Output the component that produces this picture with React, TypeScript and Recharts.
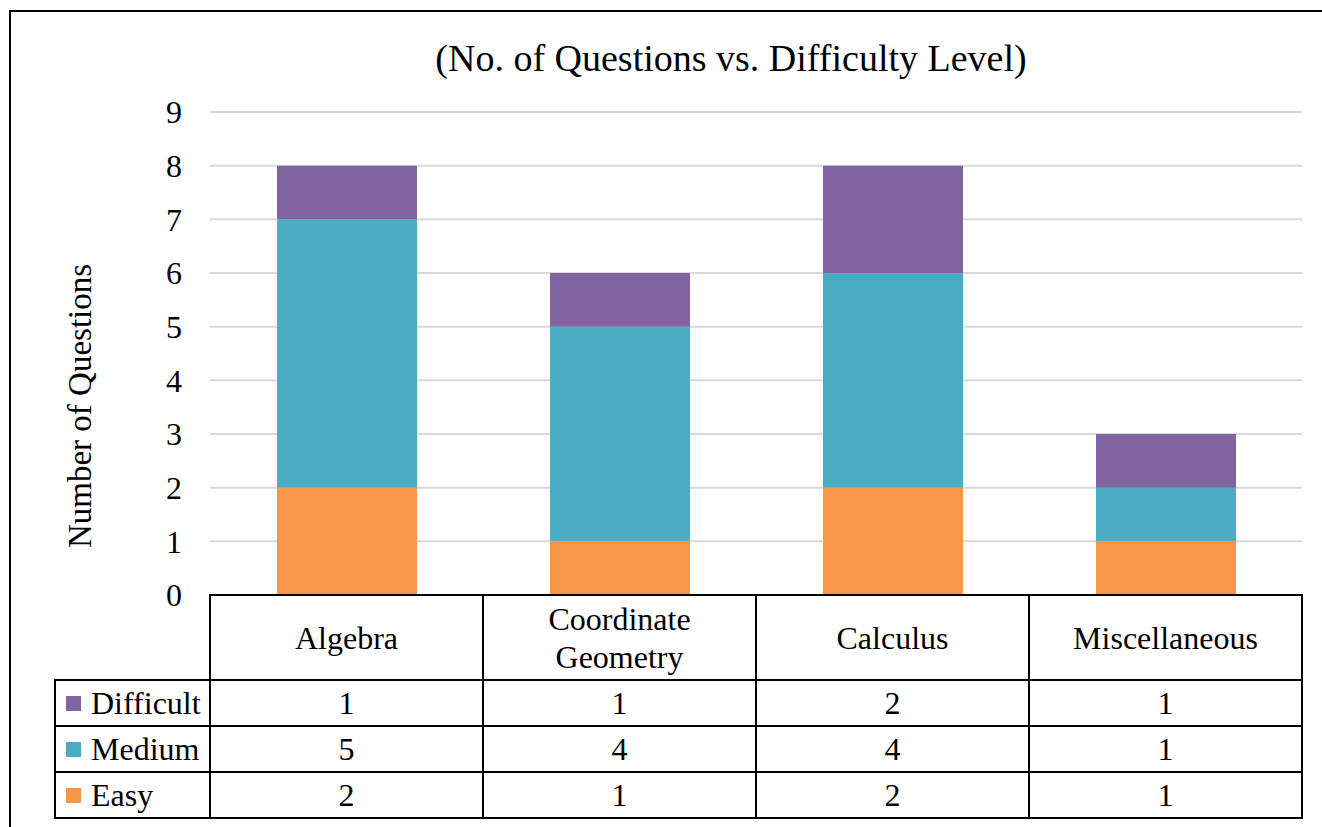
import { BarChart, Bar, XAxis, YAxis, CartesianGrid } from "recharts";

const categories = ["Algebra", "Coordinate Geometry", "Calculus", "Miscellaneous"];
const easy = [2, 1, 2, 1];
const medium = [5, 4, 4, 1];
const difficult = [1, 1, 2, 1];
const yTicks = [0, 1, 2, 3, 4, 5, 6, 7, 8, 9];

const series = [
  { key: "Difficult", values: difficult, color: "#8064A2" },
  { key: "Medium", values: medium, color: "#4BACC6" },
  { key: "Easy", values: easy, color: "#F79646" },
];

const data = categories.map((name, i) => ({
  name,
  Easy: easy[i],
  Medium: medium[i],
  Difficult: difficult[i],
}));

const FONT = "'Liberation Serif', 'DejaVu Serif', serif";
const W = 1322;
const H = 827;
const PLOT_LEFT = 210;
const PLOT_RIGHT = 1302;
const COL_W = (PLOT_RIGHT - PLOT_LEFT) / categories.length;
const HEADER_H = 85;
const ROW_H = 46;
const LEGEND_LEFT = 55;
const FS = 32;

function TableTick(props: any) {
  const { x, y, payload, index } = props;
  const left = x - COL_W / 2;
  const name: string = payload.value;
  const lines = name.length > 14 ? name.split(" ") : [name];
  const stroke = { stroke: "#000", strokeWidth: 2, fill: "none" };
  return (
    <g>
      <rect x={left} y={y} width={COL_W} height={HEADER_H} {...stroke} />
      {lines.map((ln, j) => (
        <text
          key={ln}
          x={x}
          y={y + HEADER_H / 2 + (j - (lines.length - 1) / 2) * 38 + 11}
          textAnchor="middle"
          fontFamily={FONT}
          fontSize={FS}
          fill="#000"
        >
          {ln}
        </text>
      ))}
      {series.map((s, r) => {
        const ry = y + HEADER_H + r * ROW_H;
        return (
          <g key={s.key}>
            <rect x={left} y={ry} width={COL_W} height={ROW_H} {...stroke} />
            <text x={x} y={ry + 34} textAnchor="middle" fontFamily={FONT} fontSize={FS} fill="#000">
              {s.values[index]}
            </text>
            {index === 0 && (
              <g>
                <rect x={LEGEND_LEFT} y={ry} width={left - LEGEND_LEFT} height={ROW_H} {...stroke} />
                <rect x={LEGEND_LEFT + 11} y={ry + 16} width={15} height={15} fill={s.color} />
                <text x={LEGEND_LEFT + 36} y={ry + 34} fontFamily={FONT} fontSize={FS} fill="#000">
                  {s.key}
                </text>
              </g>
            )}
          </g>
        );
      })}
    </g>
  );
}

function YTitle() {
  const cx = 80;
  const cy = 406;
  return (
    <text
      x={cx}
      y={cy}
      transform={`rotate(-90, ${cx}, ${cy})`}
      textAnchor="middle"
      dominantBaseline="central"
      fontFamily={FONT}
      fontSize={33}
      fill="#000"
    >
      Number of Questions
    </text>
  );
}

export default function App() {
  return (
    <div style={{ position: "absolute", left: 0, top: 0, width: W, height: H, overflow: "hidden", background: "#fff" }}>
      <div
        style={{
          position: "absolute",
          left: 9,
          top: 10,
          width: W,
          height: H,
          borderLeft: "2px solid #000",
          borderTop: "2px solid #000",
        }}
      />
      <div
        style={{
          position: "absolute",
          left: 0,
          width: W,
          top: 36,
          textAlign: "center",
          fontFamily: FONT,
          fontSize: 38,
          lineHeight: "44px",
          paddingLeft: 140,
          boxSizing: "border-box",
        }}
      >
        (No. of Questions vs. Difficulty Level)
      </div>
      <div style={{ position: "absolute", left: 0, top: 0 }}>
        <BarChart width={W} height={H} data={data} margin={{ top: 112, right: W - PLOT_RIGHT, bottom: 0, left: PLOT_LEFT - 90 }} barSize={140}>
          <CartesianGrid vertical={false} stroke="#D9D9D9" strokeWidth={2} />
          <XAxis
            dataKey="name"
            height={H - 595}
            axisLine={false}
            tickLine={false}
            tickSize={0}
            tickMargin={0}
            interval={0}
            tick={<TableTick />}
          />
          <YAxis
            width={90}
            domain={[0, 9]}
            ticks={yTicks}
            axisLine={false}
            tickLine={false}
            tickSize={0}
            tickMargin={28}
            tick={{ fill: "#000", fontSize: FS, fontFamily: FONT }}
            label={<YTitle />}
          />
          {[...series].reverse().map((s) => (
            <Bar key={s.key} dataKey={s.key} stackId="a" fill={s.color} isAnimationActive={false} />
          ))}
        </BarChart>
      </div>
    </div>
  );
}
